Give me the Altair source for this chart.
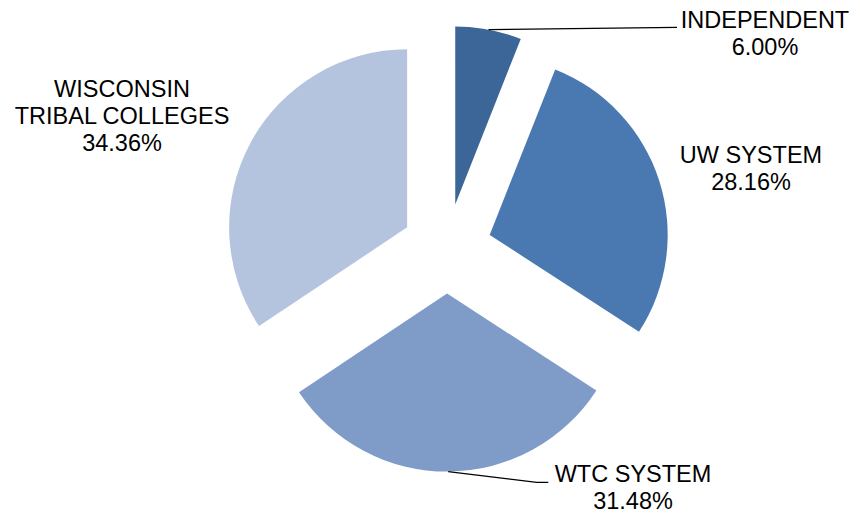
import math
import altair as alt
import pandas as pd

# ---- data ----
categories = ["INDEPENDENT", "UW SYSTEM", "WTC SYSTEM", "WISCONSIN TRIBAL COLLEGES"]
shares = [6.00, 28.16, 31.48, 34.36]
label_lines = [["INDEPENDENT", "6.00%"], ["UW SYSTEM", "28.16%"],
               ["WTC SYSTEM", "31.48%"], ["WISCONSIN", "TRIBAL COLLEGES", "34.36%"]]
colors = ["#3B6697", "#4A79B1", "#7F9CC8", "#B4C4DF"]

# ---- layout (pixels, pie-centre relative; y up) ----
W, H = 844, 506
CX, CY = 446.8, 248.6           # pie centre on screen
R = 178                          # radius
EXPLODE = 45                     # explode distance
label_pos = {                    # label anchor (centre x, first baseline y) in screen px
    "INDEPENDENT": (765, 28),
    "UW SYSTEM": (751, 163),
    "WTC SYSTEM": (633, 482),
    "WISCONSIN TRIBAL COLLEGES": (122, 97),
}
leader_ends = {                  # remaining leader line vertices in screen px
    "INDEPENDENT": [(677, 27.3)],
    "WTC SYSTEM": [(536.7, 482.3), (548.3, 482.3)],
}

def sx(x):  # screen -> data
    return x - CX

def sy(y):
    return CY - y

rows = []
cum = 0.0
for cat, v, col in zip(categories, shares, colors):
    start, end = cum, cum + v
    mid = (start + end) / 2 / 100 * 2 * math.pi
    dx, dy = EXPLODE * math.sin(mid), EXPLODE * math.cos(mid)
    rows.append({"cat": cat, "start": start, "end": end, "dx": dx, "dy": dy,
                 "ox": dx + R * math.sin(mid), "oy": dy + R * math.cos(mid)})
    cum = end
slices = pd.DataFrame(rows)

labels = pd.DataFrame([
    {"cat": c, "text": lines, "x": sx(label_pos[c][0]), "y": sy(label_pos[c][1])}
    for c, lines in zip(categories, label_lines)
])

lead_rows = []
for c, pts in leader_ends.items():
    r = slices[slices.cat == c].iloc[0]
    lead_rows.append({"cat": c, "i": 0, "x": r.ox, "y": r.oy})
    for i, (px, py) in enumerate(pts, start=1):
        lead_rows.append({"cat": c, "i": i, "x": sx(px), "y": sy(py)})
leaders = pd.DataFrame(lead_rows)

xs = alt.Scale(domain=[8 - CX, 8 + W - CX], nice=False, zero=False)
ys = alt.Scale(domain=[CY - (8 + H), CY - 8], nice=False, zero=False)

pie = alt.Chart(slices).mark_arc(radius=R, strokeWidth=0).encode(
    x=alt.X("dx:Q", scale=xs, axis=None),
    y=alt.Y("dy:Q", scale=ys, axis=None),
    theta=alt.Theta("start:Q", scale=alt.Scale(domain=[0, 100], range=[0, 2 * math.pi])),
    theta2="end:Q",
    color=alt.Color("cat:N", scale=alt.Scale(domain=categories, range=colors), legend=None),
)

lines = alt.Chart(leaders).mark_line(color="black", strokeWidth=1.3).encode(
    x=alt.X("x:Q", scale=xs, axis=None),
    y=alt.Y("y:Q", scale=ys, axis=None),
    detail="cat:N",
    order="i:Q",
)

text = alt.Chart(labels).mark_text(
    font="Liberation Sans", fontSize=23.5, align="center", baseline="alphabetic",
    lineHeight=27, color="black",
).encode(
    x=alt.X("x:Q", scale=xs, axis=None),
    y=alt.Y("y:Q", scale=ys, axis=None),
    text="text",
)

chart = alt.layer(pie, lines, text).properties(
    width=W, height=H, padding=0, autosize=alt.AutoSizeParams(type="none")
).configure_view(stroke="transparent", strokeWidth=0)

chart.save("out.html", embed_options={"renderer": "svg", "actions": False})
